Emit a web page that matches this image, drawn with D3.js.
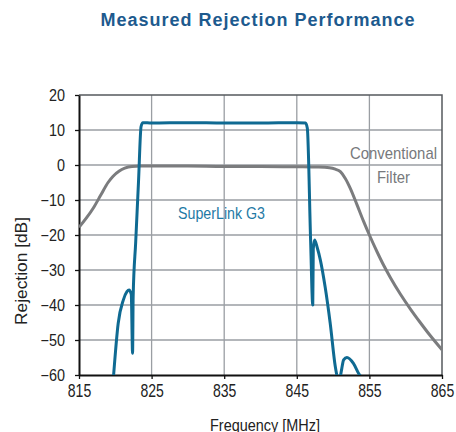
<!DOCTYPE html>
<html>
<head>
<meta charset="utf-8">
<script src="https://cdn.jsdelivr.net/npm/d3@7.9.0/dist/d3.min.js"></script>
<style>
  html, body { margin: 0; padding: 0; background: #fff; }
  svg { display: block; }
  text { font-family: "Liberation Sans", Arial, sans-serif; }
</style>
</head>
<body>
<svg id="chart" width="456" height="432"></svg>
<script>
// frequency axis [MHz] and rejection axis [dB]
const xTicks = [815, 825, 835, 845, 855, 865];
const yTicks = [20, 10, 0, -10, -20, -30, -40, -50, -60];

// SuperLink G3 measured response (null = break in the trace)
const superFreq = [819.75, 820.4, 821.1, 821.6, 821.9, 822.2, 822.38, 822.46, 822.81, 823.2, 823.55, 823.8,
  825, 830, 835, 840, 845, 846.2, 846.45, 846.9, 847.2, 847.27, 847.45, 847.8, 848.24, 848.9, 849.6, 850.3, 850.55,
  null, 851.0, 851.2, 851.45, 851.9, 852.8, 853.5, 853.85];
const superDb = [-60.5, -45.2, -38.6, -36.2, -35.7, -37, -53.8, -37.6, -22, -4.6, 11, 12.1,
  12.0, 12.1, 12.0, 12.0, 12.1, 12.0, 10.5, -21.4, -40, -24, -21.4, -23.5, -27.1, -34.8, -45.2, -57.6, -60.5,
  null, -60.5, -58.1, -55.7, -55.0, -56.7, -59.5, -60.5];

// conventional filter response
const convFreq = [815, 816, 817, 818, 819, 819.7, 820.5, 821.3, 822.3, 823.5, 825, 830, 835, 840, 845, 848,
  849.5, 850.3, 851, 851.7, 852.4, 853.3, 854.2, 855, 856.1, 857, 857.9, 859.3, 860.7, 862, 863.4, 865];
const convDb = [-17.8, -15.2, -12.2, -8.6, -5.0, -3.2, -1.8, -0.9, -0.4, -0.3, -0.3, -0.3, -0.4, -0.4, -0.5, -0.6,
  -0.8, -1.2, -1.9, -3.9, -6.8, -11.4, -16.1, -20.0, -25.0, -28.8, -32.2, -37.0, -41.3, -45.0, -48.8, -52.8];

const svg = d3.select('#chart');
const margin = { top: 95, right: 14, bottom: 57, left: 79 };
const width = 456 - margin.left - margin.right;
const height = 432 - margin.top - margin.bottom;

const x = d3.scaleLinear().domain([815, 865]).range([0, width]);
const y = d3.scaleLinear().domain([-60, 20]).range([height, 0]);

svg.append('text')
  .attr('x', 258)
  .attr('y', 26)
  .attr('text-anchor', 'middle')
  .attr('font-weight', 'bold')
  .attr('font-size', 18)
  .attr('letter-spacing', 1)
  .attr('fill', '#1d5a8e')
  .text('Measured Rejection Performance');

const g = svg.append('g').attr('transform', `translate(${margin.left},${margin.top})`);

g.append('defs').append('clipPath').attr('id', 'plot-clip')
  .append('rect').attr('width', width).attr('height', height);

// grid
g.append('g')
  .selectAll('line')
  .data(yTicks.slice(1, -1))
  .join('line')
  .attr('x1', 0).attr('x2', width)
  .attr('y1', (d) => y(d)).attr('y2', (d) => y(d))
  .attr('stroke', '#9a9ea3').attr('stroke-width', 1.3);

g.append('g')
  .selectAll('line')
  .data(xTicks.slice(1, -1))
  .join('line')
  .attr('x1', (d) => x(d)).attr('x2', (d) => x(d))
  .attr('y1', 0).attr('y2', height)
  .attr('stroke', '#9a9ea3').attr('stroke-width', 1.3);

// top and right frame
g.append('path')
  .attr('d', `M0,0H${width}V${height}`)
  .attr('fill', 'none')
  .attr('stroke', '#55595e')
  .attr('stroke-width', 1.5);

// axes
const xAxis = g.append('g')
  .attr('transform', `translate(0,${height})`)
  .call(d3.axisBottom(x).tickValues(xTicks).tickFormat(d3.format('d')).tickSize(4).tickSizeOuter(0));
const yAxis = g.append('g')
  .call(d3.axisLeft(y).tickValues(yTicks).tickFormat(d3.format('d')).tickSize(4).tickSizeOuter(0));

[xAxis, yAxis].forEach((a) => {
  a.select('.domain').attr('stroke', '#111').attr('stroke-width', 2);
  a.selectAll('.tick line').attr('stroke', '#111').attr('stroke-width', 1.3);
  a.selectAll('text').attr('font-family', null).attr('fill', '#222');
});
xAxis.selectAll('text')
  .attr('font-size', 18)
  .attr('y', 22).attr('dy', 0)
  .attr('transform', 'scale(0.78,1)');
yAxis.selectAll('text')
  .attr('font-size', 16)
  .attr('x', -14 / 0.9)
  .attr('transform', 'scale(0.9,1)');

// curves
const plot = g.append('g').attr('clip-path', 'url(#plot-clip)');

const line = d3.line()
  .defined((d) => d[0] !== null)
  .x((d) => x(d[0]))
  .y((d) => y(d[1]))
  .curve(d3.curveMonotoneX);

plot.append('path')
  .datum(d3.zip(convFreq, convDb))
  .attr('d', line)
  .attr('fill', 'none')
  .attr('stroke', '#7b7c7e')
  .attr('stroke-width', 3)
  .attr('stroke-linejoin', 'round');

plot.append('path')
  .datum(d3.zip(superFreq, superDb))
  .attr('d', line)
  .attr('fill', 'none')
  .attr('stroke', '#0f6a92')
  .attr('stroke-width', 3)
  .attr('stroke-linejoin', 'round');

// labels (condensed to the reference widths)
function label(text, px, py, size, len, fill, anchor) {
  return svg.append('text')
    .attr('x', px).attr('y', py)
    .attr('font-size', size)
    .attr('fill', fill)
    .attr('text-anchor', anchor)
    .attr('textLength', len)
    .attr('lengthAdjust', 'spacingAndGlyphs')
    .text(text);
}

label('SuperLink G3', 178, 219, 17, 87, '#1f7aa5', 'start');
label('Conventional', 350, 159, 17, 87, '#77797c', 'start');
label('Filter', 377, 183, 17, 33, '#77797c', 'start');
label('Frequency [MHz]', 210, 431, 17, 110, '#222', 'start');

svg.append('text')
  .attr('transform', 'translate(27,325) rotate(-90)')
  .attr('font-size', 16.5)
  .attr('fill', '#222')
  .attr('textLength', 108)
  .attr('lengthAdjust', 'spacingAndGlyphs')
  .text('Rejection [dB]');
</script>
</body>
</html>
